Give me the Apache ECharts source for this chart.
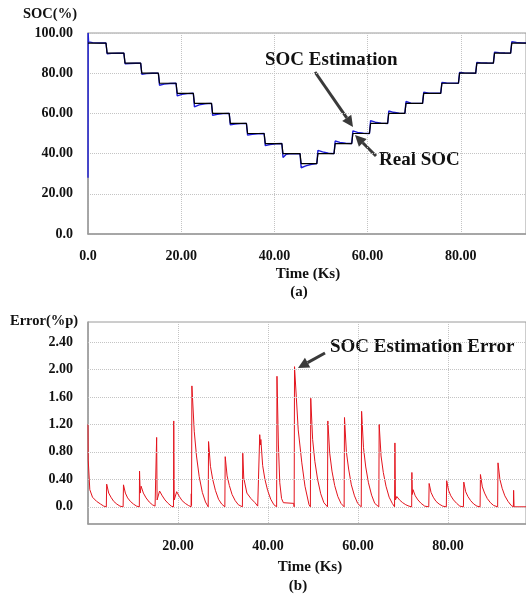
<!DOCTYPE html>
<html><head><meta charset="utf-8">
<script src="https://cdn.jsdelivr.net/npm/echarts@6/dist/echarts.min.js"></script>
<style>html,body{margin:0;padding:0;background:#fff}#c{width:526px;height:597px}</style>
</head><body><div id="c"></div>
<script>
// ---- tick labels ----
const socTicks = [0, 20, 40, 60, 80, 100];
const timeTicksA = [0, 20, 40, 60, 80];
const timeTicksB = [20, 40, 60, 80];
const errTicks = [0, 0.4, 0.8, 1.2, 1.6, 2.0, 2.4];

// ---- (a) real SOC (%) vs time (Ks) ----
const realTime = [0, 3.86, 4.1, 7.7, 7.95, 11.3, 11.55, 15.1, 15.35, 18.9, 19.15, 22.6, 22.85, 26.5, 26.75, 30.3, 30.55, 34.0, 34.25, 37.8, 38.05, 41.6, 41.85, 45.5, 45.75, 49.1, 49.35, 52.8, 53.05, 56.6, 56.85, 60.4, 60.65, 64.3, 64.55, 68.0, 68.25, 71.8, 72.05, 75.7, 75.95, 79.5, 79.75, 83.2, 83.45, 87.0, 87.25, 90.7, 90.95, 94];
const realSOC = [95, 95, 90, 90, 85, 85, 80, 80, 75, 75, 70, 70, 65, 65, 60, 60, 55, 55, 50, 50, 45, 45, 40, 40, 35, 35, 40, 40, 45, 45, 50, 50, 55, 55, 60, 60, 65, 65, 70, 70, 75, 75, 80, 80, 85, 85, 90, 90, 95, 95];

// ---- (a) estimated SOC [time, %] ----
const estPoints = [
  [0,28],[0.03,100],[0.12,95.6],[1.0,95.2],[2.5,95.05],[3.86,95],
  [4.1,89.67],[5.1,89.85],[6.4,89.96],[7.7,90],
  [7.95,84.68],[8.95,84.86],[10.2,84.96],[11.3,85],
  [11.55,79.48],[12.55,79.77],[13.8,79.94],[15.1,80],
  [15.35,73.99],[16.35,74.55],[17.6,74.88],[18.9,75],
  [19.15,68.75],[20.15,69.44],[21.4,69.85],[22.6,70],
  [22.85,63.24],[23.85,64.21],[25.1,64.79],[26.5,65],
  [26.75,59.05],[27.75,59.57],[29.0,59.89],[30.3,60],
  [30.55,54.27],[31.55,54.67],[32.8,54.91],[34.0,55],
  [34.25,49.22],[35.25,49.65],[36.5,49.91],[37.8,50],
  [38.05,43.95],[39.05,44.53],[40.3,44.87],[41.6,45],
  [41.85,38.1],[42.5,39.6],[43.2,39.95],[45.5,39.95],
  [45.75,32.96],[46.75,33.9],[48.0,34.7],[49.1,35],
  [49.35,41.58],[50.35,40.87],[51.6,40.19],[52.8,40],
  [53.05,46.25],[54.05,45.56],[55.3,45.15],[56.6,45],
  [56.85,51.3],[57.85,50.58],[59.1,50.16],[60.4,50],
  [60.65,56.39],[61.65,55.63],[62.9,55.17],[64.3,55],
  [64.55,61.2],[65.55,60.54],[66.8,60.14],[68.0,60],
  [68.25,65.93],[68.4,65.1],[69.3,65.07],[71.8,65],
  [72.05,70.5],[72.2,70.25],[73.2,70.1],[75.7,70],
  [75.95,75.34],[76.95,75.15],[78.2,75.04],[79.5,75],
  [79.75,80.38],[80.75,80.17],[82.0,80.05],[83.2,80],
  [83.45,85.36],[84.45,85.16],[85.7,85.04],[87.0,85],
  [87.25,90.47],[88.25,90.21],[89.5,90.06],[90.7,90],
  [90.95,95.64],[91.95,95.29],[93.2,95.08],[94,95.02]
];

// ---- (b) SOC estimation error [time, %p] ----
const errorPoints = [
  [0,1.2],[0.05,0.68],[0.4,0.25],[1.0,0.14],[1.9,0.08],[2.8,0.04],[3.5,0.01],[4.07,0],
  [4.15,0.33],[4.6,0.2],[5.1,0.14],[5.7,0.08],[6.4,0.04],[7.1,0.01],[7.8,0],
  [7.88,0.32],[8.3,0.2],[8.8,0.13],[9.4,0.08],[10.1,0.04],[10.8,0.01],[11.4,0],
  [11.45,0.52],[11.6,0.2],[11.8,0.3],[12.3,0.2],[12.9,0.13],[13.6,0.07],[14.3,0.03],[14.9,0.01],[15.2,0],
  [15.25,1.01],[15.35,0.1],[15.9,0.23],[16.5,0.16],[17.1,0.1],[17.8,0.05],[18.5,0.01],[19.0,0],
  [19.05,1.25],[19.15,0.1],[19.7,0.22],[20.3,0.15],[20.9,0.09],[21.6,0.05],[22.3,0.02],[22.9,0],
  [22.95,0.19],[23.0,0.02],[23.08,1.76],[23.6,1.1],[24.1,0.74],[24.7,0.44],[25.4,0.21],[26.1,0.07],[26.7,0],
  [26.78,0.95],[27.2,0.59],[27.7,0.4],[28.3,0.24],[29.0,0.11],[29.7,0.04],[30.4,0],
  [30.48,0.73],[30.9,0.45],[31.4,0.31],[32.0,0.18],[32.7,0.09],[33.4,0.03],[34.3,0],
  [34.38,0.78],[34.6,0.42],[35.3,0.2],[36.2,0.12],[37.1,0.06],[37.7,0.01],[38.1,0],
  [38.15,1.05],[38.3,0.9],[38.4,0.98],[38.8,0.6],[39.3,0.4],[39.9,0.24],[40.6,0.11],[41.3,0.03],[41.9,0],
  [41.98,1.9],[42.3,0.9],[42.6,0.35],[43.0,0.12],[43.4,0.06],[45.7,0.05],[45.8,0],
  [45.88,2.04],[46.7,1.12],[47.5,0.64],[48.2,0.3],[49.1,0.03],[49.4,0],
  [49.48,1.58],[49.9,0.98],[50.4,0.66],[51.0,0.4],[51.7,0.19],[52.4,0.06],[53.2,0],
  [53.28,1.25],[53.7,0.78],[54.2,0.52],[54.8,0.31],[55.5,0.15],[56.2,0.05],[56.9,0],
  [56.98,1.3],[57.4,0.8],[57.9,0.55],[58.5,0.32],[59.2,0.16],[59.9,0.05],[60.7,0],
  [60.78,1.39],[61.2,0.86],[61.7,0.58],[62.3,0.35],[63.0,0.17],[63.7,0.05],[64.6,0],
  [64.68,1.2],[65.1,0.74],[65.6,0.5],[66.2,0.3],[66.9,0.14],[67.6,0.05],[68.1,0],
  [68.18,0.93],[68.3,0.1],[68.6,0.15],[69.2,0.1],[69.9,0.06],[70.6,0.03],[71.3,0.01],[71.9,0],
  [71.95,0.5],[72.05,0.18],[72.2,0.25],[72.7,0.16],[73.3,0.1],[74.0,0.05],[74.8,0.01],[75.7,0],
  [75.78,0.34],[76.2,0.21],[76.7,0.14],[77.3,0.08],[78.0,0.04],[78.8,0.01],[79.6,0],
  [79.68,0.38],[80.1,0.24],[80.6,0.16],[81.2,0.1],[81.9,0.05],[82.6,0.01],[83.4,0],
  [83.48,0.36],[83.9,0.22],[84.4,0.15],[85.0,0.09],[85.7,0.04],[86.4,0.01],[87.1,0],
  [87.18,0.47],[87.6,0.29],[88.1,0.2],[88.7,0.12],[89.4,0.06],[90.1,0.02],[91.0,0],
  [91.08,0.64],[91.5,0.4],[92.0,0.27],[92.6,0.16],[93.3,0.08],[94.0,0.02],[94.5,0],
  [94.55,0.24],[94.65,0],[97.3,0]
];

const FONT = '"Liberation Serif", "Times New Roman", serif';
const TXT = '#111';
const GRID = '#c4c4c4';
const AXIS = '#9a9a9a';

function has(ticks, v) { return ticks.some(t => Math.abs(t - v) < 1e-6); }
function fmt(v) { return Math.abs(v) < 1e-9 ? '0.0' : v.toFixed(2); }
function labelFmt(ticks) { return v => has(ticks, v) ? fmt(v) : ''; }

const labelStyle = { fontFamily: FONT, fontWeight: 'bold', fontSize: 14, color: TXT, margin: 15 };

function arrow(x1, y1, x2, y2) {
  const a = Math.atan2(y2 - y1, x2 - x1), L = 11, W = 5.5;
  const bx = x2 - L * Math.cos(a), by = y2 - L * Math.sin(a);
  const px = -Math.sin(a) * W, py = Math.cos(a) * W;
  return [
    { type: 'line', silent: true, shape: { x1: x1, y1: y1, x2: bx, y2: by }, style: { stroke: '#3a3a3a', lineWidth: 3 } },
    { type: 'polygon', silent: true, shape: { points: [[x2, y2], [bx + px, by + py], [bx - px, by - py]] }, style: { fill: '#3a3a3a' } }
  ];
}
function txt(s, x, y, size, align) {
  return { type: 'text', silent: true, x: x, y: y, style: {
    text: s, fill: TXT, font: 'bold ' + size + 'px ' + FONT,
    align: align, verticalAlign: 'middle', textAlign: align, textVerticalAlign: 'middle' } };
}

const chart = echarts.init(document.getElementById('c'), null, { renderer: 'canvas' });
chart.setOption({
  animation: false,
  backgroundColor: '#fff',
  grid: [
    { left: 88, top: 33, width: 438, height: 201, show: true, borderColor: AXIS, borderWidth: 1, outerBoundsMode: 'none', containLabel: false },
    { left: 88, top: 322, width: 438, height: 202, show: true, borderColor: AXIS, borderWidth: 1, outerBoundsMode: 'none', containLabel: false }
  ],
  xAxis: [
    { type: 'value', gridIndex: 0, min: 0, max: 94, interval: 20,
      axisLine: { show: true, onZero: false, lineStyle: { color: AXIS, width: 1.5 } },
      axisTick: { show: false },
      axisLabel: Object.assign({ formatter: labelFmt(timeTicksA) }, labelStyle),
      splitLine: { show: true, lineStyle: { color: GRID, type: 'dotted', width: 1 } } },
    { type: 'value', gridIndex: 1, min: 0, max: 97.3, interval: 20,
      axisLine: { show: true, onZero: false, lineStyle: { color: AXIS, width: 1.5 } },
      axisTick: { show: false },
      axisLabel: Object.assign({ formatter: labelFmt(timeTicksB) }, labelStyle),
      splitLine: { show: true, lineStyle: { color: GRID, type: 'dotted', width: 1 } } }
  ],
  yAxis: [
    { type: 'value', gridIndex: 0, min: 0, max: 100, interval: 20,
      axisLine: { show: true, onZero: false, lineStyle: { color: AXIS, width: 1.5 } },
      axisTick: { show: false },
      axisLabel: Object.assign({ formatter: labelFmt(socTicks) }, labelStyle),
      splitLine: { show: true, lineStyle: { color: GRID, type: 'dotted', width: 1 } } },
    { type: 'value', gridIndex: 1, min: -0.25, max: 2.69, interval: 0.05,
      axisLine: { show: true, onZero: false, lineStyle: { color: AXIS, width: 1.5 } },
      axisTick: { show: false },
      axisLabel: Object.assign({ formatter: labelFmt(errTicks) }, labelStyle),
      splitLine: { show: false } }
  ],
  series: [
    { name: 'SOC Estimation', type: 'line', xAxisIndex: 0, yAxisIndex: 0, data: estPoints,
      showSymbol: false, symbol: 'none', z: 2, silent: true,
      lineStyle: { color: '#1d1dd8', width: 1.4 } },
    { name: 'Real SOC', type: 'line', xAxisIndex: 0, yAxisIndex: 0,
      data: realTime.map((t, i) => [t, realSOC[i]]),
      showSymbol: false, symbol: 'none', z: 3, silent: true,
      lineStyle: { color: '#000', width: 1.2 } },
    { name: 'gridB', type: 'line', xAxisIndex: 1, yAxisIndex: 1, data: [], z: 1, silent: true,
      markLine: { silent: true, symbol: 'none', label: { show: false }, animation: false,
        lineStyle: { color: GRID, type: 'dotted', width: 1 },
        data: errTicks.map(v => ({ yAxis: v })) } },
    { name: 'SOC Estimation Error', type: 'line', xAxisIndex: 1, yAxisIndex: 1, data: errorPoints,
      showSymbol: false, symbol: 'none', z: 3, silent: true,
      lineStyle: { color: '#e3141d', width: 1 } }
  ],
  graphic: [
    txt('SOC(%)', 23, 14, 14.5, 'left'),
    txt('Error(%p)', 10, 321, 14.5, 'left'),
    txt('Time (Ks)', 308, 274, 15, 'center'),
    txt('(a)', 299, 292, 15, 'center'),
    txt('Time (Ks)', 310, 567, 15, 'center'),
    txt('(b)', 298, 586, 15, 'center'),
    txt('SOC Estimation', 265, 60, 19, 'left'),
    txt('Real SOC', 379, 160, 19, 'left'),
    txt('SOC Estimation Error', 330, 347, 19, 'left')
  ].concat(arrow(315, 72, 353, 127), arrow(376, 156, 355, 135), arrow(325, 353, 298, 368))
});
</script>
</body></html>
